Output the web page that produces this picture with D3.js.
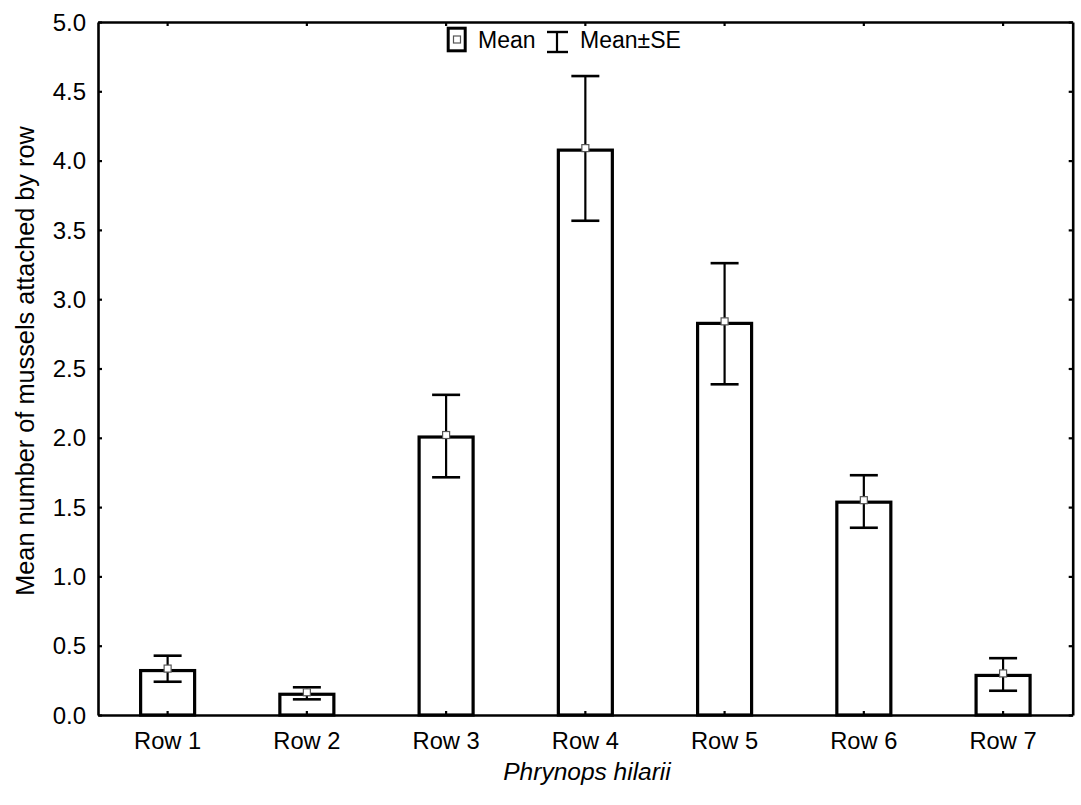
<!DOCTYPE html>
<html>
<head>
<meta charset="utf-8">
<script src="https://cdn.jsdelivr.net/npm/d3@7"></script>
<style>
  html, body { margin: 0; padding: 0; background: #fff; }
  text { font-family: Arial, "Liberation Sans", sans-serif; fill: #000; }
</style>
</head>
<body>
<svg id="chart" width="1081" height="805"></svg>
<script>
const categories = ["Row 1", "Row 2", "Row 3", "Row 4", "Row 5", "Row 6", "Row 7"];
const meanValues = [0.335, 0.164, 2.02, 4.09, 2.84, 1.55, 0.30];
const upperSE    = [0.428, 0.200, 2.31, 4.61, 3.26, 1.73, 0.41];
const lowerSE    = [0.240, 0.113, 1.715, 3.566, 2.386, 1.351, 0.175];
const yTicks = [0.0, 0.5, 1.0, 1.5, 2.0, 2.5, 3.0, 3.5, 4.0, 4.5, 5.0];
const yLabel = "Mean number of mussels attached by row";
const xLabel = "Phrynops hilarii";

const svg = d3.select("#chart");
const margin = {left: 98, right: 8.3, top: 22, bottom: 90};
const W = 1081, H = 805;
const x = d3.scaleBand().domain(categories).range([margin.left, W - margin.right]).padding(0);
const y = d3.scaleLinear().domain([0, 5]).range([H - margin.bottom, margin.top]);

const barW = 54;
const capW = 28;
const font = "Arial, 'Liberation Sans', sans-serif";

// bars
const g = svg.append("g");
categories.forEach((c, i) => {
  const cx = x(c) + x.bandwidth() / 2;
  g.append("rect")
    .attr("x", cx - barW / 2)
    .attr("y", y(meanValues[i]) + 2)
    .attr("width", barW)
    .attr("height", y(0) - y(meanValues[i]) - 2)
    .attr("fill", "#fff").attr("stroke", "#000").attr("stroke-width", 3.2);
});
// error bars
categories.forEach((c, i) => {
  const cx = x(c) + x.bandwidth() / 2;
  g.append("line").attr("x1", cx).attr("x2", cx)
    .attr("y1", y(upperSE[i])).attr("y2", y(lowerSE[i]))
    .attr("stroke", "#000").attr("stroke-width", 2.2);
  [upperSE[i], lowerSE[i]].forEach(v => {
    g.append("line").attr("x1", cx - capW / 2).attr("x2", cx + capW / 2)
      .attr("y1", y(v)).attr("y2", y(v))
      .attr("stroke", "#000").attr("stroke-width", 2.6);
  });
  g.append("rect").attr("x", cx - 3.5).attr("y", y(meanValues[i]) - 3.5)
    .attr("width", 7).attr("height", 7)
    .attr("fill", "#fff").attr("stroke", "#555").attr("stroke-width", 1.2);
});

// axes
const tickLen = 4;
const axL = svg.append("g").attr("transform", `translate(${margin.left},0)`)
  .call(d3.axisLeft(y).tickValues(yTicks).tickFormat(d3.format(".1f")).tickSizeInner(-tickLen).tickSizeOuter(0).tickPadding(12));
const axR = svg.append("g").attr("transform", `translate(${W - margin.right},0)`)
  .call(d3.axisRight(y).tickValues(yTicks).tickFormat("").tickSizeInner(-tickLen).tickSizeOuter(0));
const axB = svg.append("g").attr("transform", `translate(0,${y(0)})`)
  .call(d3.axisBottom(x).tickSizeInner(-tickLen).tickSizeOuter(0).tickPadding(17));
const axT = svg.append("g").attr("transform", `translate(0,${y(5)})`)
  .call(d3.axisTop(x).tickFormat("").tickSizeInner(-tickLen).tickSizeOuter(0));
[axL, axR, axB, axT].forEach(a => {
  a.select(".domain").attr("stroke", "#000").attr("stroke-width", 2.6);
  a.selectAll(".tick line").attr("stroke", "#000").attr("stroke-width", 2.2);
  a.selectAll(".tick text").attr("font-family", font).attr("fill", "#000");
});
axL.selectAll(".tick text").attr("font-size", 24).attr("dy", "0.34em");
axB.selectAll(".tick text").attr("font-size", 23.7).attr("dy", "0.71em");

// axis titles
svg.append("text")
  .attr("transform", `translate(33.5,361) rotate(-90)`)
  .attr("text-anchor", "middle").attr("font-size", 25.3)
  .text(yLabel);
svg.append("text")
  .attr("x", 587).attr("y", 780)
  .attr("text-anchor", "middle").attr("font-size", 24.5).attr("font-style", "italic")
  .text(xLabel);

// legend
const lg = svg.append("g");
lg.append("rect").attr("x", 448.2).attr("y", 28.2).attr("width", 17).attr("height", 22.6)
  .attr("fill", "#fff").attr("stroke", "#000").attr("stroke-width", 3);
lg.append("rect").attr("x", 453.5).attr("y", 36).attr("width", 7).attr("height", 7)
  .attr("fill", "#fff").attr("stroke", "#555").attr("stroke-width", 1.2);
lg.append("text").attr("x", 478).attr("y", 47.7).attr("font-size", 23).text("Mean");
lg.append("line").attr("x1", 557).attr("x2", 557).attr("y1", 32).attr("y2", 52)
  .attr("stroke", "#000").attr("stroke-width", 2.2);
lg.append("line").attr("x1", 547).attr("x2", 568).attr("y1", 32).attr("y2", 32)
  .attr("stroke", "#000").attr("stroke-width", 2.4);
lg.append("line").attr("x1", 547).attr("x2", 568).attr("y1", 52).attr("y2", 52)
  .attr("stroke", "#000").attr("stroke-width", 2.4);
lg.append("text").attr("x", 580).attr("y", 47.7).attr("font-size", 23).text("Mean±SE");
</script>
</body>
</html>
